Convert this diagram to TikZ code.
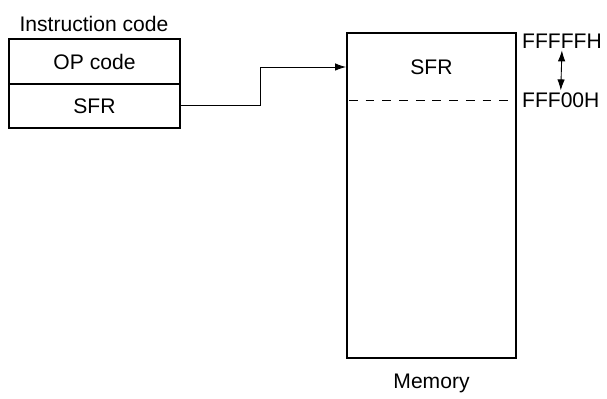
\documentclass[tikz,border=0pt]{standalone}
\usepackage{fontspec}
\setmainfont{Liberation Sans}
\usetikzlibrary{arrows.meta, positioning, calc, fit}
\tikzset{
  field/.style={draw, line width=0.5pt, minimum width=3.42cm, minimum height=0.87cm, inner sep=0pt},
  frame/.style={draw, line width=1.1pt, inner sep=0pt},
  arr/.style={-{Latex[length=2.2mm, width=1.5mm]}, line width=0.5pt},
  lbl/.style={inner sep=1pt},
}

\begin{document}
\begin{tikzpicture}[x=0.02cm, y=-0.02cm, font=\fontsize{12}{14}\selectfont]
    \useasboundingbox (0,0) rectangle (607,398);
    % instruction code
    \node[field] (op) at (94.5,61.5) {OP code};
    \node[field, below=0pt of op] (sfrfield) {SFR};
    \node[frame, fit=(op)(sfrfield)] (instr) {};
    \node[lbl] (instrlbl) at (94,24) {Instruction code};
    % memory
    \node[frame, minimum width=3.38cm, minimum height=6.5cm] (mem) at (431.5,195.5) {};
    \node[lbl] (memsfr) at (431.5,67) {SFR};
    \coordinate (dl) at (349,100);
    \coordinate (dr) at (514,100);
    \draw[dash pattern=on 5pt off 4.5pt, line width=0.5pt] (dl) -- (dr);
    \node[lbl, anchor=west] (hi) at (520,41) {FFFFFH};
    \node[lbl, anchor=west] (lo) at (520,100) {FFF00H};
    \draw[{Latex[length=2.2mm, width=1.5mm]}-{Latex[length=2.2mm, width=1.5mm]}, line width=0.5pt]
      (hi.south) -- (lo.north);
    \node[lbl] (memlbl) at (431.5,383) {Memory};
    % connector
    \coordinate (bend) at (260,67);
    \draw[arr] (sfrfield.east) -| (bend) -- (bend -| mem.west);
  \end{tikzpicture}
\end{document}
